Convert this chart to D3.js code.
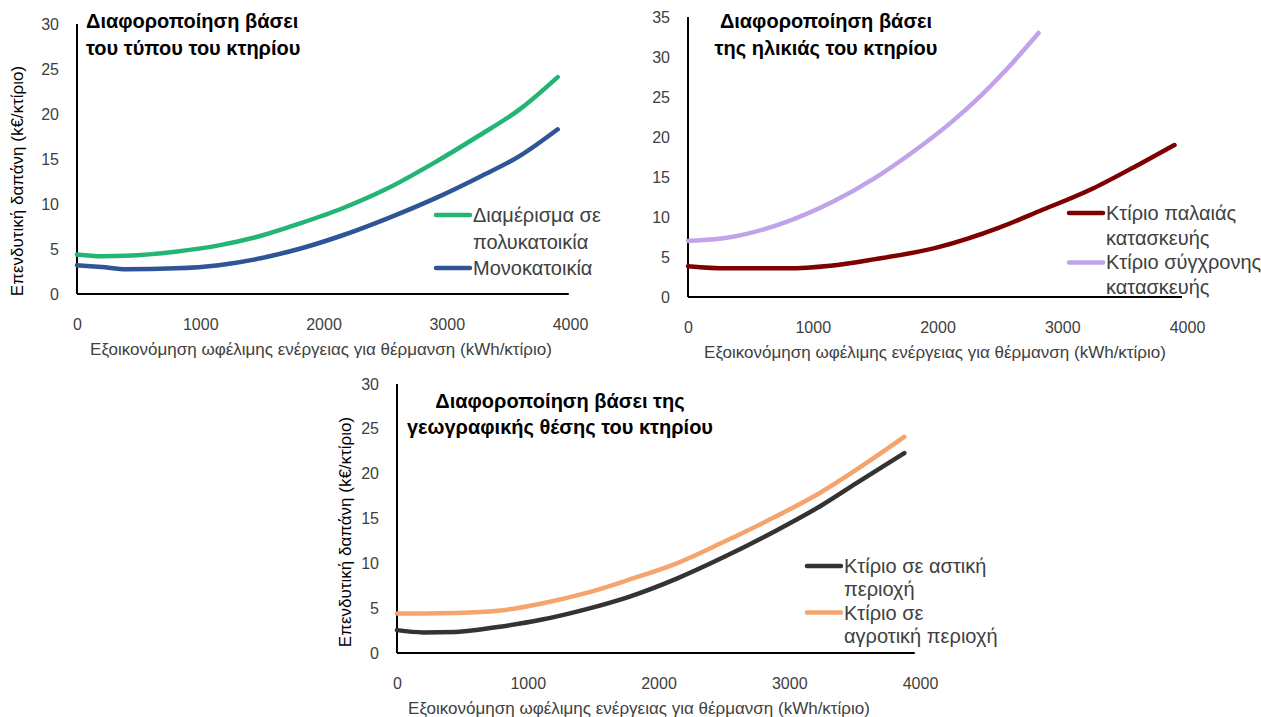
<!DOCTYPE html>
<html>
<head>
<meta charset="utf-8">
<script src="https://cdn.jsdelivr.net/npm/d3@7"></script>
<style>
  html, body { margin: 0; padding: 0; background: #ffffff; }
  svg { display: block; font-family: "Liberation Sans", Arial, sans-serif; }
</style>
</head>
<body>
<svg id="chart" width="1261" height="717"></svg>
<script>
// ---------- data ----------
const xTickValues = [0, 1000, 2000, 3000, 4000];
const xAxisTitle = "Εξοικονόμηση ωφέλιμης ενέργειας για θέρμανση (kWh/κτίριο)";
const yAxisTitle = "Επενδυτική δαπάνη (k€/κτίριο)";

// Panel 1: building type
const typeTitle = ["Διαφοροποίηση βάσει", "του τύπου του κτηρίου"];
const typeYTicks = [0, 5, 10, 15, 20, 25, 30];
const typeX = [0, 200, 400, 800, 1150, 1500, 1800, 2150, 2500, 2900, 3250, 3600, 3900];
const apartment = [4.4, 4.2, 4.25, 4.7, 5.4, 6.5, 7.8, 9.5, 11.6, 14.6, 17.5, 20.6, 24.1];
const detached = [3.2, 3.0, 2.75, 2.85, 3.2, 4.0, 5.0, 6.5, 8.3, 10.6, 12.9, 15.4, 18.3];
const typeLegend = [["Διαμέρισμα σε", "πολυκατοικία"], ["Μονοκατοικία"]];

// Panel 2: building age
const ageTitle = ["Διαφοροποίηση βάσει", "της ηλικιάς του κτηρίου"];
const ageYTicks = [0, 5, 10, 15, 20, 25, 30, 35];
const oldX = [0, 310, 790, 1140, 1490, 2000, 2500, 2820, 3250, 3630, 3900];
const oldBuilding = [3.85, 3.58, 3.58, 3.9, 4.7, 6.2, 8.7, 10.75, 13.6, 16.7, 19.0];
const newX = [0, 310, 790, 1160, 1490, 1800, 2100, 2350, 2580, 2810];
const newBuilding = [7.0, 7.4, 9.4, 11.9, 14.8, 18.1, 21.7, 25.2, 28.9, 33.0];
const ageLegend = [["Κτίριο παλαιάς", "κατασκευής"], ["Κτίριο σύγχρονης", "κατασκευής"]];

// Panel 3: location
const locTitle = ["Διαφοροποίηση βάσει της", "γεωγραφικής θέσης του κτηρίου"];
const locYTicks = [0, 5, 10, 15, 20, 25, 30];
const locX = [0, 200, 450, 770, 1100, 1450, 1780, 2140, 2500, 2880, 3240, 3520, 3880];
const urban = [2.55, 2.3, 2.35, 2.9, 3.7, 4.9, 6.3, 8.3, 10.7, 13.5, 16.4, 19.0, 22.3];
const rural = [4.4, 4.4, 4.45, 4.7, 5.5, 6.7, 8.2, 10.0, 12.4, 15.1, 17.9, 20.5, 24.1];
const locLegend = [["Κτίριο σε αστική", "περιοχή"], ["Κτίριο σε", "αγροτική περιοχή"]];

// ---------- drawing ----------
const svg = d3.select("#chart");

function drawPanel(cfg) {
  const g = svg.append("g");
  const x = d3.scaleLinear().domain([0, 4000]).range([cfg.x0, cfg.x1]);
  const y = d3.scaleLinear().domain([0, cfg.yMax]).range([cfg.y0, cfg.yTop]);

  // x tick labels
  const xAxis = d3.axisBottom(x).tickValues(xTickValues).tickSize(0).tickPadding(0)
    .tickFormat(d3.format("d"));
  const gx = g.append("g").attr("transform", `translate(0,${cfg.y0 + 20})`).call(xAxis);
  gx.select(".domain").remove();
  gx.selectAll("text").attr("font-size", 16).attr("fill", "#404040")
    .attr("font-family", "Liberation Sans, Arial, sans-serif").attr("dy", "0.32em").attr("y", 11);

  // y tick labels
  const yAxis = d3.axisLeft(y).tickValues(cfg.yTicks).tickSize(0).tickPadding(0)
    .tickFormat(d3.format("d"));
  const gy = g.append("g").attr("transform", `translate(${cfg.x0 - 18},0)`).call(yAxis);
  gy.select(".domain").remove();
  gy.selectAll("text").attr("font-size", 16).attr("fill", "#404040")
    .attr("font-family", "Liberation Sans, Arial, sans-serif");

  // axis lines
  g.append("line").attr("x1", x(0)).attr("x2", x(cfg.xLineEnd))
    .attr("y1", y(0)).attr("y2", y(0)).attr("stroke", "#000").attr("stroke-width", 2);
  g.append("line").attr("x1", x(0)).attr("x2", x(0))
    .attr("y1", y(0)).attr("y2", y(cfg.yMax)).attr("stroke", "#000").attr("stroke-width", 2);

  // series
  const line = d3.line().x(d => x(d[0])).y(d => y(d[1])).curve(d3.curveMonotoneX);
  cfg.series.forEach(s => {
    const pts = s.xs.map((v, i) => [v, s.ys[i]]);
    g.append("path").attr("d", line(pts)).attr("fill", "none")
      .attr("stroke", s.color).attr("stroke-width", 4.5)
      .attr("stroke-linejoin", "round").attr("stroke-linecap", "round");
  });

  // title
  const t = g.append("text").attr("font-weight", "bold").attr("font-size", cfg.titleSize)
    .attr("fill", "#000").attr("text-anchor", cfg.titleAnchor);
  cfg.title.forEach((l, i) => {
    t.append("tspan").attr("x", cfg.titleX).attr("y", cfg.titleY + i * cfg.titleGap).text(l);
  });

  // x axis title
  g.append("text").attr("x", cfg.xTitleX).attr("y", cfg.y0 + 61)
    .attr("text-anchor", "middle").attr("font-size", 17).attr("fill", "#404040")
    .text(xAxisTitle);

  // y axis title
  if (cfg.yTitle) {
    g.append("text")
      .attr("transform", `translate(${cfg.yTitleX},${cfg.yTitleY}) rotate(-90)`)
      .attr("text-anchor", "middle").attr("dy", "0.35em")
      .attr("font-size", 17).attr("fill", "#000")
      .text(yAxisTitle);
  }

  // legend
  let ly = cfg.legendY;
  cfg.series.forEach(s => {
    g.append("line").attr("x1", cfg.legendX).attr("x2", cfg.legendX + 34)
      .attr("y1", ly).attr("y2", ly).attr("stroke", s.color).attr("stroke-width", 4.5)
      .attr("stroke-linecap", "round");
    s.label.forEach((l, i) => {
      g.append("text").attr("x", cfg.legendX + 37).attr("y", ly + i * cfg.legendGap)
        .attr("dy", "0.35em").attr("font-size", 20).attr("fill", "#404040").text(l);
    });
    ly += s.label.length * cfg.legendGap;
  });
}

drawPanel({
  x0: 77, x1: 570, y0: 294, yTop: 24, yMax: 30, yTicks: typeYTicks, xLineEnd: 3990,
  title: typeTitle, titleX: 86, titleY: 28, titleGap: 27, titleSize: 20, titleAnchor: "start",
  xTitleX: 321, yTitle: true, yTitleX: 17, yTitleY: 181,
  legendX: 436, legendY: 215, legendGap: 26.5,
  series: [
    { xs: typeX, ys: apartment, color: "#22B573", label: typeLegend[0] },
    { xs: typeX, ys: detached, color: "#2F5597", label: typeLegend[1] }
  ]
});

drawPanel({
  x0: 688, x1: 1187, y0: 297, yTop: 17, yMax: 35, yTicks: ageYTicks, xLineEnd: 3960,
  title: ageTitle, titleX: 826, titleY: 28, titleGap: 27, titleSize: 20, titleAnchor: "middle",
  xTitleX: 935, yTitle: false,
  legendX: 1069, legendY: 213, legendGap: 24.7,
  series: [
    { xs: oldX, ys: oldBuilding, color: "#7F0000", label: ageLegend[0] },
    { xs: newX, ys: newBuilding, color: "#C0A3EA", label: ageLegend[1] }
  ]
});

drawPanel({
  x0: 397, x1: 920, y0: 653, yTop: 384, yMax: 30, yTicks: locYTicks, xLineEnd: 3960,
  title: locTitle, titleX: 560, titleY: 408, titleGap: 26, titleSize: 20, titleAnchor: "middle",
  xTitleX: 639, yTitle: true, yTitleX: 345, yTitleY: 532,
  legendX: 807, legendY: 566, legendGap: 23.3,
  series: [
    { xs: locX, ys: urban, color: "#333333", label: locLegend[0] },
    { xs: locX, ys: rural, color: "#F4A46C", label: locLegend[1] }
  ]
});
</script>
</body>
</html>
